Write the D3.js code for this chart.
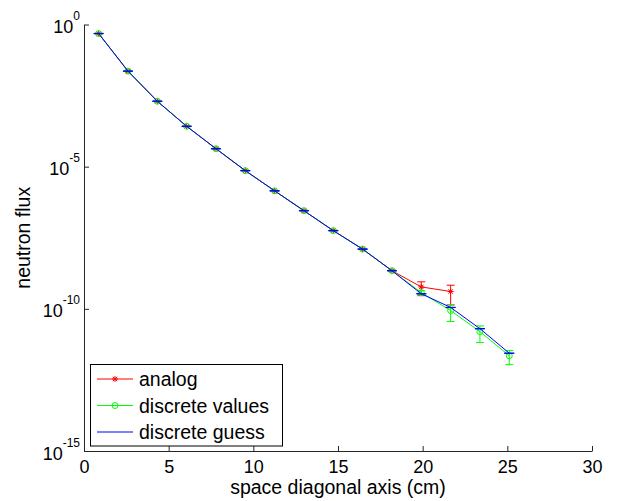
<!DOCTYPE html>
<html>
<head>
<meta charset="utf-8">
<script src="https://cdn.jsdelivr.net/npm/d3@7"></script>
<style>
  body { margin: 0; background: #fff; }
  text { font-family: Arial, "Liberation Sans", sans-serif; fill: #000; }
</style>
</head>
<body>
<svg id="chart" width="638" height="501"></svg>
<script>
// positions along the space diagonal (cm)
const xPos = [0.866, 2.598, 4.330, 6.062, 7.794, 9.526, 11.258, 12.990, 14.722, 16.454, 18.187, 19.919, 21.651, 23.383, 25.115];

const analogFlux = [4.8e-1, 2.29e-2, 2.0e-3, 2.63e-4, 4.27e-5, 7.24e-6, 1.41e-6, 2.82e-7, 5.62e-8, 1.26e-8, 2.19e-9, 5.9e-10, 4.07e-10];
const analogErr = [1.2e-2, 6e-4, 6e-5, 8e-6, 1.3e-6, 2.2e-7, 4.5e-8, 9e-9, 1.8e-9, 4e-10, 8e-11, 3.0e-10, 2.7e-10];

const discreteFlux = [4.8e-1, 2.29e-2, 2.0e-3, 2.63e-4, 4.27e-5, 7.24e-6, 1.41e-6, 2.82e-7, 5.62e-8, 1.26e-8, 2.19e-9, 3.72e-10, 8.7e-11, 1.58e-11, 2.24e-12];
const discreteErr = [1.0e-2, 5e-4, 5e-5, 6e-6, 1e-6, 1.7e-7, 3.5e-8, 7e-9, 1.4e-9, 3e-10, 6e-11, 6e-11, 5.1e-11, 9.3e-12, 1.15e-12];

const guessFlux = [4.8e-1, 2.29e-2, 2.0e-3, 2.63e-4, 4.27e-5, 7.24e-6, 1.41e-6, 2.82e-7, 5.62e-8, 1.26e-8, 2.19e-9, 3.39e-10, 1.12e-10, 2.0e-11, 2.75e-12];
const guessErr = [5e-3, 2.5e-4, 2e-5, 3e-6, 4e-7, 7e-8, 1.4e-8, 3e-9, 6e-10, 1.3e-10, 2.2e-11, 3e-12, 1e-12, 2e-13, 3e-14];

const xTicks = [0, 5, 10, 15, 20, 25, 30];
const yTickExp = [0, -5, -10, -15];
const legendNames = ['analog', 'discrete values', 'discrete guess'];

const svg = d3.select('#chart');
const plotLeft = 84, plotRight = 592, plotTop = 24.5, plotBottom = 451;

const x = d3.scaleLinear().domain([0, 30]).range([plotLeft, plotRight]);
const y = d3.scaleLog().domain([1e-15, 1]).range([plotBottom, plotTop]);

const series = [
    { name: legendNames[0], flux: analogFlux, err: analogErr, color: '#ff0000', marker: 'star', cap: 4 },
    { name: legendNames[1], flux: discreteFlux, err: discreteErr, color: '#00ff00', marker: 'circle', cap: 4 },
    { name: legendNames[2], flux: guessFlux, err: guessErr, color: '#0000ff', marker: 'none', cap: 5 },
];

// axes
const xAxis = svg.append('g')
    .attr('transform', `translate(0,${plotBottom})`)
    .call(d3.axisBottom(x).tickValues(xTicks).tickSizeInner(-5).tickSizeOuter(0).tickPadding(9));
xAxis.selectAll('text').style('font-size', '18px');

const yAxis = svg.append('g')
    .attr('transform', `translate(${plotLeft},0)`)
    .call(d3.axisLeft(y).tickValues(yTickExp.map((e) => Math.pow(10, e))).tickSizeInner(-5).tickSizeOuter(0).tickFormat(''));

svg.selectAll('.domain, .tick line').attr('stroke', '#262626');

const yLab = yAxis.selectAll('.tick').append('text')
    .attr('y', 8)
    .attr('text-anchor', 'start')
    .style('font-size', '18px');
yLab.append('tspan').text('10');
yLab.append('tspan')
    .attr('dy', -13)
    .style('font-size', '12px')
    .text((d) => Math.round(Math.log10(d)) || '0');
// place labels so the exponent ends just left of the axis
yLab.each(function () {
    const w = this.getComputedTextLength();
    d3.select(this).attr('x', -w - 4);
});

// axis titles
svg.append('text')
    .attr('x', (plotLeft + plotRight) / 2)
    .attr('y', 494)
    .attr('text-anchor', 'middle')
    .style('font-size', '19.5px')
    .text('space diagonal axis (cm)');

svg.append('text')
    .attr('transform', `translate(30,${(plotTop + plotBottom) / 2}) rotate(-90)`)
    .attr('text-anchor', 'middle')
    .style('font-size', '19.5px')
    .text('neutron flux');

// series
const line = d3.line().x((d) => x(d.x)).y((d) => y(d.v));

series.forEach((s) => {
    const pts = s.flux.map((v, i) => ({ x: xPos[i], v, e: s.err[i] }));
    const g = svg.append('g');

    g.append('path')
        .datum(pts)
        .attr('fill', 'none')
        .attr('stroke', s.color)
        .attr('stroke-width', 1)
        .attr('d', line);

    const eb = g.selectAll('.eb').data(pts).enter().append('g');
    eb.append('line')
        .attr('x1', (d) => x(d.x)).attr('x2', (d) => x(d.x))
        .attr('y1', (d) => y(d.v + d.e)).attr('y2', (d) => y(Math.max(d.v - d.e, 1e-16)))
        .attr('stroke', s.color);
    [1, -1].forEach((sign) => {
        eb.append('line')
            .attr('x1', (d) => x(d.x) - s.cap).attr('x2', (d) => x(d.x) + s.cap)
            .attr('y1', (d) => y(d.v + sign * d.e)).attr('y2', (d) => y(d.v + sign * d.e))
            .attr('stroke', s.color);
    });

    if (s.marker === 'circle') {
        g.selectAll('.mk').data(pts).enter().append('circle')
            .attr('cx', (d) => x(d.x)).attr('cy', (d) => y(d.v)).attr('r', 3)
            .attr('fill', 'none').attr('stroke', s.color);
    } else if (s.marker === 'star') {
        g.selectAll('.mk').data(pts).enter().append('path')
            .attr('transform', (d) => `translate(${x(d.x)},${y(d.v)})`)
            .attr('d', 'M-3,0H3M0,-3V3M-2.2,-2.2L2.2,2.2M-2.2,2.2L2.2,-2.2')
            .attr('stroke', s.color).attr('fill', 'none');
    }
});

// legend
const lg = svg.append('g');
lg.append('rect')
    .attr('x', 90.5).attr('y', 364.5).attr('width', 192).attr('height', 81.5)
    .attr('fill', '#fff').attr('stroke', '#000');

series.forEach((s, i) => {
    const ly = 379 + i * 26.5;
    lg.append('line')
        .attr('x1', 97).attr('x2', 133).attr('y1', ly).attr('y2', ly)
        .attr('stroke', s.color);
    if (s.marker === 'circle') {
        lg.append('circle').attr('cx', 115).attr('cy', ly).attr('r', 3)
            .attr('fill', 'none').attr('stroke', s.color);
    } else if (s.marker === 'star') {
        lg.append('path').attr('transform', `translate(115,${ly})`)
            .attr('d', 'M-3,0H3M0,-3V3M-2.2,-2.2L2.2,2.2M-2.2,2.2L2.2,-2.2')
            .attr('stroke', s.color);
    }
    lg.append('text')
        .attr('x', 139).attr('y', ly + 7)
        .style('font-size', '19.5px')
        .text(s.name);
});
</script>
</body>
</html>
